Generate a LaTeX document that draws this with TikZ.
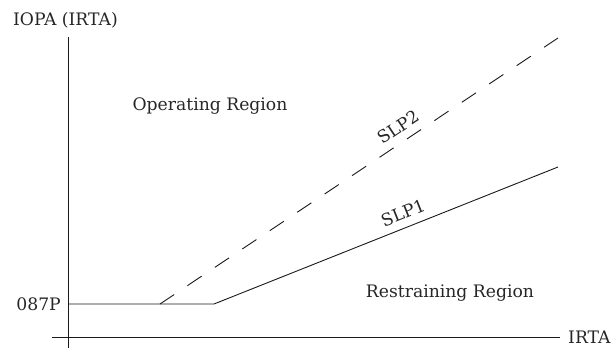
\documentclass[tikz,border=0pt]{standalone}
\usepackage{fontspec}
\setmainfont{DejaVu Serif}
\begin{document}
\begin{tikzpicture}[x=1pt,y=-1pt,
  lbl/.style={inner sep=0pt, font=\fontsize{17.2}{19}\selectfont, text=black!85},
  ax/.style={line width=0.9pt, black!90},
  curve/.style={line width=0.9pt, black!90},
  dsh/.style={curve, dash pattern=on 17pt off 16pt}]
\useasboundingbox (0,0) rectangle (612,348);
% axes
\coordinate (yt) at (68,37);
\coordinate (yb) at (68,348);
\coordinate (xl) at (52,337);
\coordinate (xr) at (560,337);
\draw[ax] (yt) -- (yb);
\draw[ax] (xl) -- (xr);
% characteristic
\coordinate (p0) at (68,304);
\coordinate (pd) at (160,304);
\coordinate (pk) at (214,304);
\coordinate (e1) at (558,167);
\coordinate (e2) at (558,38);
\draw[curve] (p0) -- (pk) -- (e1);
\draw[dsh] (pd) -- (e2);
% labels
\node[lbl, anchor=west] (ylab) at (13,20) {IOPA (IRTA)};
\node[lbl, anchor=east] (pick) at (61,304) {087P};
\node[lbl, anchor=west] (xlab) at (568,337) {IRTA};
\node[lbl] (op) at (210,106) {Operating Region};
\node[lbl] (rs) at (450,293) {Restraining Region};
\node[lbl, rotate=33.7] (s2) at (398,127) {SLP2};
\node[lbl, rotate=21.7] (s1) at (403,213) {SLP1};
\end{tikzpicture}
\end{document}
